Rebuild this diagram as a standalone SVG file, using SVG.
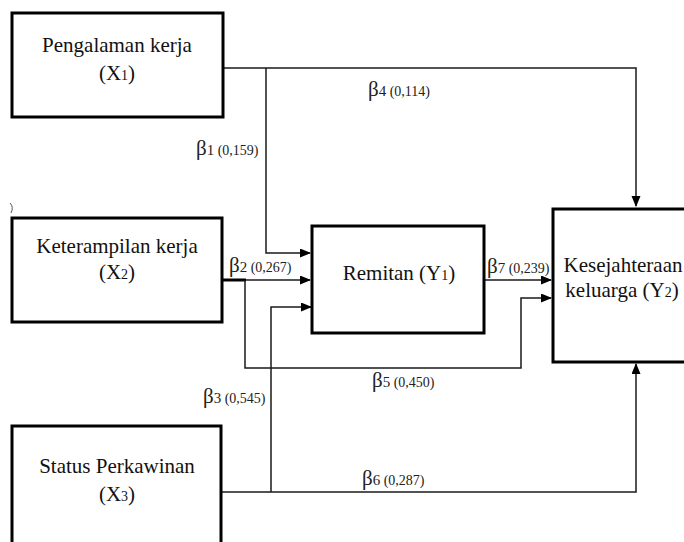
<svg xmlns="http://www.w3.org/2000/svg" width="684" height="542" viewBox="0 0 684 542">
<style>
.box{fill:#fff;stroke:#000;stroke-width:3}
.t{font-family:"Liberation Serif","Times New Roman",serif;font-size:21px;fill:#111;text-anchor:middle}
.sub{font-size:14px}
.c{fill:none;stroke:#1a1a1a;stroke-width:1.5}
.lb{font-family:"Liberation Serif","Times New Roman",serif;fill:#222}
.b{font-size:21px}
.d{font-size:15px}
.n{font-size:14px}
</style>
<defs>
<marker id="ah" markerUnits="userSpaceOnUse" markerWidth="12" markerHeight="10" refX="10" refY="4.5" orient="auto">
<path d="M0,0 L11,4.5 L0,9 z" fill="#000"/>
</marker>
</defs>
<rect width="684" height="542" fill="#fff"/>
<g id="connectors">
<path class="c" d="M223,68 H636 V206" marker-end="url(#ah)"/>
<path class="c" d="M266,68 V253 H310" marker-end="url(#ah)"/>
<path class="c" d="M223,280 H310" marker-end="url(#ah)"/>
<path d="M223,280 H246" stroke="#000" stroke-width="3"/>
<path class="c" d="M245,280 V368 H521 V298 H551" marker-end="url(#ah)"/>
<path class="c" d="M271,492 V307 H311" marker-end="url(#ah)"/>
<path class="c" d="M221,492 H636 V364" marker-end="url(#ah)"/>
<path class="c" d="M485,280 H551" marker-end="url(#ah)"/>
<path d="M10,203 q4,4 1,10" fill="none" stroke="#555" stroke-width="1"/>
</g>
<g id="labels">
<text class="lb" x="368" y="96"><tspan class="b">β</tspan><tspan class="d">4</tspan><tspan class="n"> (0,114)</tspan></text>
<text class="lb" x="196" y="155"><tspan class="b">β</tspan><tspan class="d">1</tspan><tspan class="n"> (0,159)</tspan></text>
<text class="lb" x="229" y="272"><tspan class="b">β</tspan><tspan class="d">2</tspan><tspan class="n"> (0,267)</tspan></text>
<text class="lb" x="487" y="273"><tspan class="b">β</tspan><tspan class="d">7</tspan><tspan class="n"> (0,239)</tspan></text>
<text class="lb" x="372" y="387"><tspan class="b">β</tspan><tspan class="d">5</tspan><tspan class="n"> (0,450)</tspan></text>
<text class="lb" x="203" y="403"><tspan class="b">β</tspan><tspan class="d">3</tspan><tspan class="n"> (0,545)</tspan></text>
<text class="lb" x="362" y="485"><tspan class="b">β</tspan><tspan class="d">6</tspan><tspan class="n"> (0,287)</tspan></text>
</g>
<g id="x1">
<rect class="box" x="12" y="13" width="211" height="104"/>
<text class="t" x="117" y="52">Pengalaman kerja</text>
<text class="t" x="117" y="80">(X<tspan class="sub">1</tspan>)</text>
</g>
<g id="x2">
<rect class="box" x="12" y="218" width="210" height="104"/>
<text class="t" x="117" y="253">Keterampilan kerja</text>
<text class="t" x="117" y="279">(X<tspan class="sub">2</tspan>)</text>
</g>
<g id="x3">
<rect class="box" x="12" y="426" width="209" height="130"/>
<text class="t" x="117" y="473">Status Perkawinan</text>
<text class="t" x="117" y="501">(X<tspan class="sub">3</tspan>)</text>
</g>
<g id="y1">
<rect class="box" x="312" y="226" width="172" height="107"/>
<text class="t" x="399" y="280">Remitan (Y<tspan class="sub">1</tspan>)</text>
</g>
<g id="y2">
<rect class="box" x="553" y="209" width="140" height="153"/>
<text class="t" x="623" y="272">Kesejahteraan</text>
<text class="t" x="622" y="297">keluarga (Y<tspan class="sub">2</tspan>)</text>
</g>
</svg>
